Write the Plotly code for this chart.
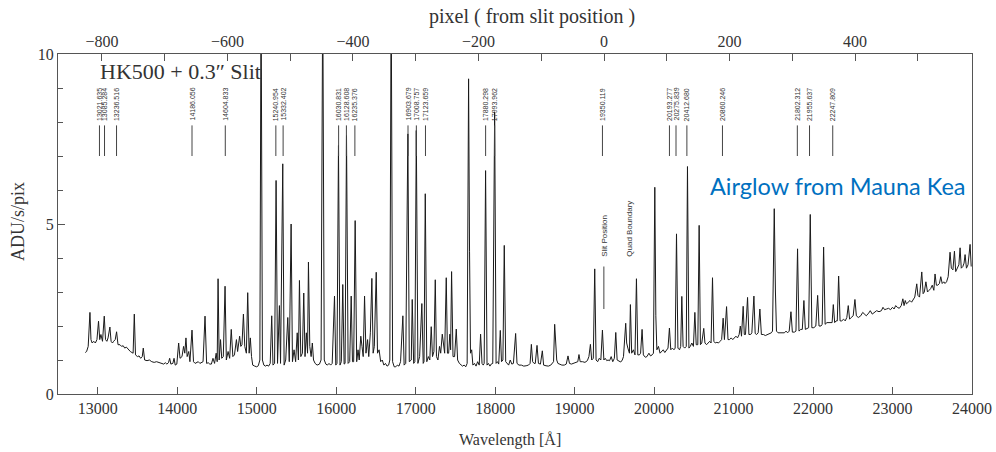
import plotly.graph_objects as go

# ---------------- spectrum vertices (wavelength [A], ADU/s/pix) ----------------
band_12k = [
    (12843, 1.22), (12860, 1.25), (12880, 1.40), (12902, 2.40), (12915, 1.60), (12930, 1.50),
    (12950, 1.55), (12970, 1.50), (12990, 1.60), (13010, 2.14), (13025, 1.60), (13040, 1.75),
    (13060, 1.55), (13082, 2.29), (13098, 1.60), (13115, 1.55), (13130, 1.65), (13153, 1.97),
    (13168, 1.55), (13185, 1.50), (13200, 1.55), (13220, 1.60), (13237, 1.83), (13255, 1.45),
    (13280, 1.45), (13300, 1.40), (13320, 1.42), (13340, 1.35), (13360, 1.38), (13385, 1.30),
    (13410, 1.25), (13430, 1.22), (13445, 1.20), (13460, 2.35), (13475, 1.15), (13500, 1.10),
    (13520, 1.12), (13540, 1.05), (13560, 1.10), (13573, 1.35), (13590, 1.00), (13620, 0.98),
    (13650, 1.00), (13680, 0.95), (13710, 0.93), (13740, 0.95), (13770, 0.92), (13800, 0.90),
    (13830, 0.88), (13850, 0.92), (13870, 0.88), (13890, 0.92), (13905, 1.05), (13920, 0.88),
    (13945, 0.90), (13960, 1.05), (13975, 0.85), (13995, 0.88),
]
band_14k = [
    (14018, 1.50), (14035, 1.05), (14060, 1.10), (14080, 1.40), (14095, 1.20), (14110, 1.65),
    (14125, 1.10), (14145, 1.25), (14160, 0.95), (14186, 1.88), (14205, 0.95), (14225, 0.90),
    (14245, 0.92), (14265, 0.95), (14285, 0.90), (14305, 0.92), (14325, 0.95), (14350, 2.29),
    (14370, 0.90), (14390, 0.92), (14410, 0.88), (14430, 0.88), (14450, 1.05), (14470, 0.90),
    (14490, 1.20), (14503, 0.95), (14514, 3.39), (14528, 1.00), (14545, 1.60), (14560, 1.05),
    (14580, 1.10), (14602, 3.17), (14618, 1.00), (14640, 1.25), (14660, 1.05), (14680, 1.90),
    (14700, 1.10), (14720, 1.15), (14745, 1.60), (14760, 1.25), (14785, 1.70), (14800, 1.40),
    (14815, 1.45), (14833, 2.35), (14850, 1.40), (14870, 1.20), (14887, 2.98), (14905, 1.20),
    (14920, 1.65), (14935, 1.10), (14950, 0.85), (14975, 0.82),
]
band_15k = [
    (15000, 0.80), (15020, 0.83), (15040, 1.00), (15055, 12.0), (15072, 1.00), (15090, 0.85),
    (15110, 0.82), (15130, 0.85), (15150, 0.82), (15170, 0.90), (15189, 2.30), (15205, 0.85),
    (15225, 0.90), (15244, 6.28), (15262, 0.90), (15286, 2.60), (15300, 0.90), (15328, 6.77),
    (15345, 0.85), (15365, 1.00), (15391, 2.25), (15410, 0.95), (15433, 5.00), (15450, 0.95),
    (15470, 1.30), (15490, 0.95), (15510, 1.80), (15525, 1.00), (15538, 3.34), (15555, 1.10),
    (15575, 1.20), (15592, 2.97), (15608, 1.10), (15625, 1.80), (15640, 1.20), (15651, 3.88),
    (15668, 1.40), (15685, 1.10), (15700, 1.50), (15715, 1.00), (15735, 0.90), (15760, 0.85),
    (15790, 0.88), (15810, 1.00), (15831, 12.0), (15850, 1.00), (15870, 0.88), (15890, 0.85),
    (15910, 0.90), (15930, 0.85), (15950, 0.90), (15979, 2.88), (15995, 0.85),
]
band_16k = [
    (16010, 0.90), (16029, 7.31), (16048, 0.85), (16065, 0.95), (16083, 3.22), (16100, 0.88),
    (16112, 0.90), (16130, 7.60), (16150, 0.90), (16170, 0.95), (16189, 2.88), (16205, 0.95),
    (16220, 0.95), (16239, 5.10), (16258, 0.95), (16275, 1.30), (16290, 1.00), (16310, 1.70),
    (16325, 1.40), (16340, 1.10), (16357, 2.88), (16375, 1.20), (16395, 1.60), (16410, 1.10),
    (16430, 1.80), (16449, 3.40), (16465, 1.20), (16480, 1.40), (16504, 3.58), (16520, 1.20),
    (16540, 1.30), (16560, 0.95), (16580, 1.00), (16600, 0.85), (16620, 0.90), (16640, 0.82),
    (16660, 0.85), (16675, 1.00), (16692, 12.0), (16710, 0.95), (16730, 0.80), (16750, 0.80),
    (16770, 0.85), (16790, 0.82), (16810, 0.95), (16839, 2.30), (16855, 0.85), (16875, 0.90),
    (16902, 7.65), (16920, 0.95), (16945, 1.00), (16957, 2.78), (16975, 0.90), (16990, 0.95),
]
band_17k = [
    (17008, 7.75), (17028, 0.90), (17050, 1.10), (17078, 2.66), (17095, 0.90), (17105, 0.95),
    (17121, 5.89), (17140, 0.95), (17160, 1.10), (17178, 1.00), (17196, 1.98), (17212, 1.10),
    (17230, 1.25), (17247, 3.36), (17262, 1.10), (17280, 1.00), (17300, 1.40), (17315, 1.20),
    (17335, 1.76), (17352, 1.30), (17365, 1.20), (17385, 3.42), (17400, 1.20), (17415, 1.20),
    (17430, 1.76), (17440, 1.30), (17452, 3.60), (17470, 1.10), (17490, 1.10), (17511, 1.91),
    (17528, 1.00), (17550, 0.90), (17570, 0.85), (17590, 0.82), (17610, 0.85), (17630, 0.80),
    (17648, 0.90), (17666, 9.27), (17678, 4.20), (17690, 1.20), (17705, 1.30), (17720, 0.85),
    (17740, 0.90), (17760, 0.82), (17780, 0.95), (17800, 0.85), (17817, 1.76), (17835, 0.90),
    (17850, 0.85), (17862, 0.90), (17880, 6.57), (17898, 0.85), (17915, 0.90), (17935, 0.82),
    (17950, 0.88), (17970, 0.90), (17994, 8.29),
]
band_18k = [
    (18012, 0.90), (18030, 0.95), (18045, 0.88), (18065, 1.87), (18080, 0.95), (18098, 1.00),
    (18115, 4.37), (18133, 0.95), (18150, 0.90), (18170, 0.85), (18190, 1.00), (18210, 0.88),
    (18230, 0.90), (18258, 1.78), (18275, 0.90), (18300, 0.85), (18330, 0.85), (18360, 0.82),
    (18390, 0.83), (18420, 0.85), (18440, 0.90), (18456, 1.46), (18472, 0.95), (18490, 0.90),
    (18505, 0.90), (18527, 1.43), (18545, 0.90), (18570, 0.88), (18594, 1.27), (18610, 0.85),
    (18640, 0.83), (18670, 0.82), (18700, 0.85), (18720, 0.90), (18735, 0.95), (18749, 2.05),
    (18762, 1.43), (18775, 1.00), (18790, 0.90), (18810, 0.88), (18840, 0.85), (18870, 0.85),
    (18895, 0.88), (18917, 1.12), (18935, 0.90), (18960, 0.88), (18990, 0.90),
]
band_19k = [
    (19020, 0.92), (19040, 0.95), (19055, 1.16), (19070, 0.95), (19100, 0.95), (19130, 0.93),
    (19160, 0.98), (19180, 1.10), (19199, 1.46), (19215, 1.00), (19235, 1.05), (19253, 3.68),
    (19270, 1.00), (19290, 0.95), (19310, 1.05), (19330, 1.00), (19350, 1.88), (19368, 1.00),
    (19385, 1.05), (19405, 0.98), (19420, 1.00), (19440, 0.98), (19460, 1.10), (19480, 0.95),
    (19500, 1.05), (19518, 1.81), (19535, 1.00), (19560, 0.97), (19580, 0.94), (19600, 1.00),
    (19615, 1.10), (19643, 2.08), (19655, 1.50), (19670, 1.35), (19690, 1.20), (19702, 2.63),
    (19718, 1.20), (19740, 1.30), (19760, 1.15), (19778, 3.39), (19795, 1.15), (19815, 1.15),
    (19830, 1.20), (19849, 1.90), (19865, 1.15), (19890, 1.08), (19910, 1.10), (19935, 1.20),
    (19955, 1.12), (19975, 1.15), (19992, 1.20),
]
band_20k = [
    (20009, 6.08), (20022, 2.30), (20035, 1.30), (20055, 1.40), (20075, 1.20), (20095, 1.25),
    (20115, 1.30), (20135, 1.22), (20155, 1.30), (20175, 1.35), (20193, 1.94), (20210, 1.30),
    (20230, 1.35), (20250, 1.30), (20265, 1.35), (20282, 4.71), (20300, 1.35), (20320, 1.30),
    (20335, 1.40), (20349, 2.87), (20365, 1.40), (20385, 1.35), (20405, 1.40), (20420, 6.69),
    (20438, 1.35), (20455, 1.40), (20475, 1.50), (20495, 1.40), (20513, 2.40), (20530, 1.45),
    (20550, 1.45), (20567, 4.96), (20583, 1.45), (20600, 1.50), (20625, 1.93), (20640, 1.50),
    (20660, 1.45), (20685, 1.50), (20700, 1.55), (20717, 1.50), (20735, 3.42), (20752, 1.55),
    (20770, 1.50), (20790, 1.52), (20810, 1.50), (20830, 1.55), (20850, 1.60), (20869, 2.23),
    (20885, 1.60), (20912, 2.57), (20930, 1.60), (20950, 1.60), (20970, 1.65), (20990, 1.60),
]
band_21k = [
    (21010, 1.65), (21030, 1.70), (21050, 1.65), (21070, 1.75), (21085, 2.00), (21100, 1.70),
    (21121, 2.58), (21135, 1.75), (21150, 1.75), (21176, 2.84), (21193, 1.75), (21215, 1.75),
    (21230, 1.80), (21256, 2.88), (21272, 1.78), (21290, 1.75), (21310, 1.80), (21331, 2.50),
    (21350, 1.75), (21375, 1.75), (21400, 1.72), (21430, 1.75), (21460, 1.78), (21475, 1.80),
    (21490, 1.85), (21512, 5.45), (21527, 3.00), (21540, 1.85), (21560, 1.80), (21585, 1.80),
    (21610, 1.82), (21640, 1.80), (21660, 1.85), (21680, 1.80), (21700, 1.85), (21722, 2.42),
    (21740, 1.82), (21765, 1.82), (21785, 1.85), (21805, 4.27), (21823, 1.85), (21845, 1.90),
    (21865, 1.90), (21885, 2.75), (21903, 1.90), (21925, 1.92), (21945, 1.95), (21965, 5.28),
    (21985, 1.95),
]
band_22k = [
    (22010, 1.95), (22035, 2.00), (22058, 2.90), (22075, 2.00), (22100, 2.00), (22115, 2.05),
    (22133, 4.32), (22152, 2.05), (22175, 2.10), (22200, 2.10), (22225, 2.10), (22240, 2.10),
    (22255, 2.63), (22272, 2.10), (22290, 2.15), (22305, 2.15), (22322, 3.47), (22340, 2.15),
    (22360, 2.15), (22385, 2.20), (22405, 2.15), (22425, 2.25), (22443, 2.60), (22460, 2.20),
    (22480, 2.25), (22505, 2.30), (22527, 2.78), (22545, 2.30), (22570, 2.25), (22600, 2.30),
    (22625, 2.40), (22650, 2.35), (22670, 2.30), (22700, 2.38), (22720, 2.45), (22745, 2.35),
    (22770, 2.40), (22800, 2.45), (22830, 2.42), (22860, 2.45), (22880, 2.55), (22900, 2.48),
    (22925, 2.50), (22950, 2.52), (22975, 2.48),
]
band_23k = [
    (23000, 2.55), (23020, 2.50), (23040, 2.60), (23060, 2.55), (23085, 2.52), (23110, 2.60),
    (23130, 2.80), (23145, 2.60), (23160, 2.75), (23175, 2.65), (23200, 2.70), (23220, 2.75),
    (23240, 2.70), (23260, 2.80), (23280, 2.85), (23305, 3.24), (23320, 2.90), (23340, 2.85),
    (23368, 3.59), (23385, 2.95), (23400, 3.00), (23420, 3.30), (23440, 3.00), (23460, 3.05),
    (23480, 3.10), (23500, 3.20), (23520, 3.05), (23535, 3.53), (23552, 3.20), (23570, 3.20),
    (23590, 3.25), (23607, 3.45), (23625, 3.25), (23645, 3.30), (23660, 3.25), (23680, 3.30),
    (23700, 3.45), (23724, 4.17), (23740, 3.70), (23760, 3.65), (23779, 4.20), (23795, 3.60),
    (23815, 3.70), (23835, 3.80), (23850, 4.30), (23865, 3.70), (23885, 3.75), (23900, 3.85),
    (23913, 4.10), (23930, 3.70), (23950, 3.80), (23976, 4.40), (23990, 3.75),
]
bands = [band_12k, band_14k, band_15k, band_16k, band_17k, band_18k,
         band_19k, band_20k, band_21k, band_22k, band_23k]
wavelength = [p[0] for b in bands for p in b]
flux = [p[1] for b in bands for p in b]

# ---------------- identified OH lines ----------------
line_labels = ["13021.635", "13085.284", "13236.516", "14186.056", "14604.833",
               "15240.954", "15332.402", "16030.831", "16128.608", "16235.376",
               "16903.679", "17008.757", "17123.659", "17880.298", "17993.962",
               "19350.119", "20193.277", "20275.839", "20412.680", "20860.246",
               "21802.312", "21955.637", "22247.809"]
line_wavelengths = [float(s) for s in line_labels]

note_labels = ["Slit Position", "Quad Boundary"]
note_wavelengths = [19368, 19681]

# axes
wl_range = [12500, 24000]
wl_ticks = list(range(13000, 24001, 1000))
slit_wavelength = 19370.0
angstrom_per_pixel = 7.897
pix_range = [(w - slit_wavelength) / angstrom_per_pixel for w in wl_range]
pix_ticks = [-800, -600, -400, -200, 0, 200, 400]
y_ticks = [0, 5, 10]

SERIF = "Liberation Serif, DejaVu Serif, serif"
SANS = "Liberation Sans, Arial, sans-serif"
AX = "#555555"

fig = go.Figure()
fig.add_trace(go.Scatter(x=wavelength, y=flux, mode="lines",
                         line=dict(color="#1a1a1a", width=1), showlegend=False,
                         hoverinfo="x+y"))
fig.add_trace(go.Scatter(x=pix_range, y=[None, None], xaxis="x2", mode="lines",
                         showlegend=False, hoverinfo="skip"))

shapes = []
annotations = []
for wl, lab in zip(line_wavelengths, line_labels):
    shapes.append(dict(type="line", xref="x", yref="y", x0=wl, x1=wl, y0=7.0, y1=7.9,
                       line=dict(color="#444444", width=1)))
    annotations.append(dict(x=wl, y=8.0, xref="x", yref="y", text=lab, textangle=-90,
                            showarrow=False, xanchor="center", yanchor="bottom",
                            font=dict(family=SANS, size=7, color="#333333"), borderpad=0))

# Slit position marker line + notes
shapes.append(dict(type="line", xref="x", yref="y", x0=note_wavelengths[0], x1=note_wavelengths[0],
                   y0=2.5, y1=3.75, line=dict(color="#444444", width=1)))
annotations.append(dict(x=note_wavelengths[0], y=4.0, xref="x", yref="y", text=note_labels[0],
                        textangle=-90, showarrow=False, xanchor="center", yanchor="bottom",
                        font=dict(family=SANS, size=8, color="#333333"), borderpad=0))
annotations.append(dict(x=note_wavelengths[1], y=4.0, xref="x", yref="y", text=note_labels[1],
                        textangle=-90, showarrow=False, xanchor="center", yanchor="bottom",
                        font=dict(family=SANS, size=8, color="#333333"), borderpad=0))

annotations.append(dict(x=13000, y=9.5, xref="x", yref="y", text="HK500 + 0.3\u2033 Slit",
                        showarrow=False, xanchor="left", yanchor="middle",
                        font=dict(family=SERIF, size=22, color="#333333")))
annotations.append(dict(x=20676, y=6.13, xref="x", yref="y", text="Airglow from Mauna Kea",
                        showarrow=False, xanchor="left", yanchor="middle",
                        font=dict(family="Lato, Open Sans, sans-serif", size=23.5, color="#0070C0")))

# axis titles
annotations.append(dict(x=0.5, y=0, xref="paper", yref="paper", yshift=-46, xshift=-5,
                        text="Wavelength [Å]", showarrow=False, xanchor="center", yanchor="middle",
                        font=dict(family=SERIF, size=16, color="#333333")))
annotations.append(dict(x=0.5, y=1, xref="paper", yref="paper", yshift=38, xshift=17,
                        text="pixel ( from slit position )", showarrow=False, xanchor="center",
                        yanchor="middle", font=dict(family=SERIF, size=20, color="#333333")))
annotations.append(dict(x=0, y=0.5, xref="paper", yref="paper", xshift=-40, yshift=2,
                        text="ADU/s/pix", showarrow=False, textangle=-90, xanchor="center",
                        yanchor="middle", font=dict(family=SERIF, size=18, color="#333333")))

tickfont = dict(family=SERIF, size=16, color="#333333")
fig.update_layout(
    width=996, height=452,
    margin=dict(l=58, r=24, t=54, b=58, autoexpand=False),
    paper_bgcolor="white", plot_bgcolor="white",
    showlegend=False,
    shapes=shapes, annotations=annotations,
    xaxis=dict(range=wl_range, tickvals=wl_ticks, tickformat="d", ticks="inside", ticklen=7,
               tickcolor=AX, showline=True, linecolor=AX, linewidth=1, mirror=True,
               showgrid=False, zeroline=False, tickfont=tickfont, automargin=False),
    xaxis2=dict(range=pix_range, overlaying="x", side="top", anchor="y",
                tickvals=pix_ticks, tickformat="d", ticks="inside", ticklen=7, tickcolor=AX,
                minor=dict(dtick=100, tick0=0, ticks="inside", ticklen=7, tickcolor=AX),
                showline=True, linecolor=AX, linewidth=1, automargin=False,
                showgrid=False, zeroline=False, tickfont=tickfont),
    yaxis=dict(range=[0, 10], tickvals=y_ticks, ticks="inside", ticklen=7, tickcolor=AX,
               minor=dict(dtick=1, tick0=0, ticks="inside", ticklen=5, tickcolor=AX),
               showline=True, linecolor=AX, linewidth=1, mirror=True, automargin=False,
               showgrid=False, zeroline=False, tickfont=tickfont),
)

fig.write_html("out.html")
